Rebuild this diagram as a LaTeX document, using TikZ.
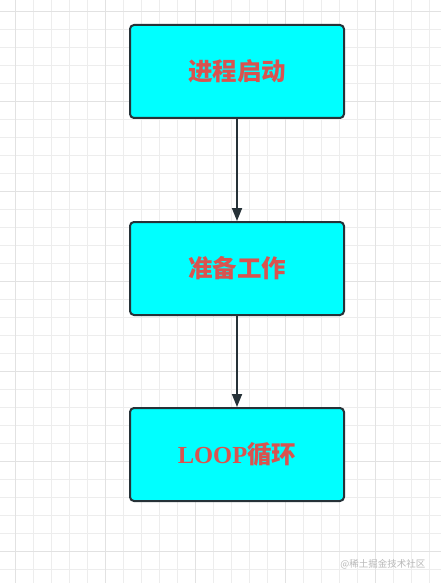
\documentclass[tikz,border=0pt]{standalone}
\usepackage{fontspec}
\setmainfont{Liberation Serif}
\newfontfamily\cjk{Noto Sans CJK SC}
\usepackage{xcolor}
\definecolor{boxfill}{HTML}{00FFFF}
\definecolor{boxline}{HTML}{263238}
\definecolor{label}{HTML}{D9534F}
\definecolor{gridline}{HTML}{EDEDED}
\definecolor{gridbold}{HTML}{E2E2E2}
\definecolor{wmark}{HTML}{B8B8B8}
\usetikzlibrary{arrows.meta, positioning}

\begin{document}
\begin{tikzpicture}[
  x=1pt, y=-1pt,
  stepbox/.style={draw=boxline, fill=boxfill, line width=2pt, rounded corners=4pt,
    minimum width=214pt, minimum height=93pt, font=\bfseries\fontsize{24.5}{28}\selectfont, text=label},
  flow/.style={draw=boxline, line width=1.8pt, -{Triangle[length=13pt, width=10pt]}},
  >=Stealth
]
  \useasboundingbox (0,0) rectangle (441,583);
  \fill[white] (0,0) rectangle (441,583);

  % Grid
  \foreach \i in {0,...,23} {
    \pgfmathsetmacro{\gx}{15+18*\i}
    \draw[gridline, line width=0.7pt] (\gx,0) -- (\gx,583);
  }
  \foreach \j in {0,...,32} {
    \pgfmathsetmacro{\gy}{11.7+18*\j}
    \draw[gridline, line width=0.7pt] (0,\gy) -- (441,\gy);
  }
  \foreach \i in {-1,...,4} {
    \pgfmathsetmacro{\gx}{15+90*\i}
    \draw[gridbold, line width=0.8pt] (\gx,0) -- (\gx,583);
  }
  \foreach \j in {-1,...,6} {
    \pgfmathsetmacro{\gy}{11.7+90*\j}
    \draw[gridbold, line width=0.8pt] (0,\gy) -- (441,\gy);
  }

  % Steps
  \node[stepbox] (start) at (237,71.5) {\cjk 进程启动};
  \node[stepbox] (prepare) at (237,268.5) {\cjk 准备工作};
  \node[stepbox] (loop) at (237,454.5) {LOOP{\cjk 循环}};

  % Arrows
  \draw[flow] (start) -- (prepare);
  \draw[flow] (prepare) -- (loop);

  % Watermark
  \node[wmark, font=\cjk\fontsize{9.5}{11}\selectfont, anchor=east] (wm) at (429,564) {@稀土掘金技术社区};
\end{tikzpicture}
\end{document}
